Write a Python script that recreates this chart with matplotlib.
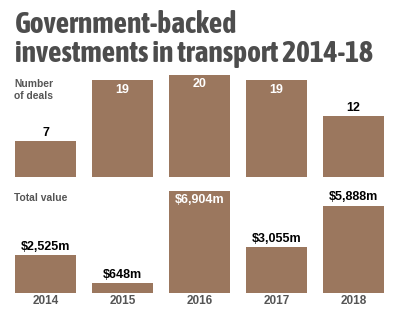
import matplotlib
matplotlib.use("Agg")
import matplotlib.pyplot as plt

years = ["2014", "2015", "2016", "2017", "2018"]
deals = [7, 19, 20, 19, 12]
values = [2525, 648, 6904, 3055, 5888]
value_labels = ["$2,525m", "$648m", "$6,904m", "$3,055m", "$5,888m"]
title_lines = ["Government-backed", "investments in transport 2014-18"]

BAR = "#9b775e"
GREY = "#555555"
W, H = 403, 324

fig = plt.figure(figsize=(W / 100, H / 100), dpi=100)


def px_ax(top, bottom):
    # axes spanning the full width, between pixel rows top..bottom
    return fig.add_axes([0, (H - bottom) / H, 1, (bottom - top) / H])


def draw_panel(ax, vals, labels, px_per_unit, height_px):
    x = range(len(vals))
    ax.bar(x, vals, width=61 / 77, color=BAR)
    ax.set_xlim(-45.5 / 77, (W - 45.5) / 77)
    ax.set_ylim(0, height_px / px_per_unit)
    vmax = max(vals)
    for i, (v, lab) in enumerate(zip(vals, labels)):
        if v > 0.9 * vmax:
            ax.annotate(lab, (i, v), xytext=(0, -2.5), textcoords="offset points",
                        ha="center", va="top", color="white",
                        fontsize=9, fontweight="bold", family="Liberation Sans")
        else:
            ax.annotate(lab, (i, v), xytext=(0, 1.5), textcoords="offset points",
                        ha="center", va="bottom", color="black",
                        fontsize=9, fontweight="bold", family="Liberation Sans")
    ax.axis("off")


ax1 = px_ax(70, 177)
draw_panel(ax1, deals, [str(d) for d in deals], 5.1, 107)

ax2 = px_ax(185, 292.7)
draw_panel(ax2, values, value_labels, 0.0148, 107.7)

for i, y in enumerate(years):
    ax2.annotate(y, (i, 0), xytext=(0, -2), textcoords="offset points",
                 ha="center", va="top", color=GREY,
                 fontsize=8.5, fontweight="bold", family="Liberation Sans")

# title in a condensed bold face, sized so the long line spans ~358 px
title_kw = dict(color="#4d4d4d", fontsize=20, fontweight="bold",
                family=["Asap Condensed", "Liberation Sans"],
                va="baseline", ha="left")
t1 = fig.text(15 / W, 1 - 33 / H, title_lines[0], **title_kw)
t2 = fig.text(15 / W, 1 - 62 / H, title_lines[1], **title_kw)
fig.canvas.draw()
w = t2.get_window_extent().width
size = 20 * 358 / w
t1.set_fontsize(size)
t2.set_fontsize(size)

fig.text(14 / W, 1 - 90 / H, "Number\nof deals", color=GREY, fontsize=7.4,
         fontweight="bold", family="Liberation Sans", va="center", ha="left",
         linespacing=1.15)
fig.text(14 / W, 1 - 197.7 / H, "Total value", color=GREY, fontsize=7.4,
         fontweight="bold", family="Liberation Sans", va="center", ha="left")

fig.savefig("out.png", dpi=100)
